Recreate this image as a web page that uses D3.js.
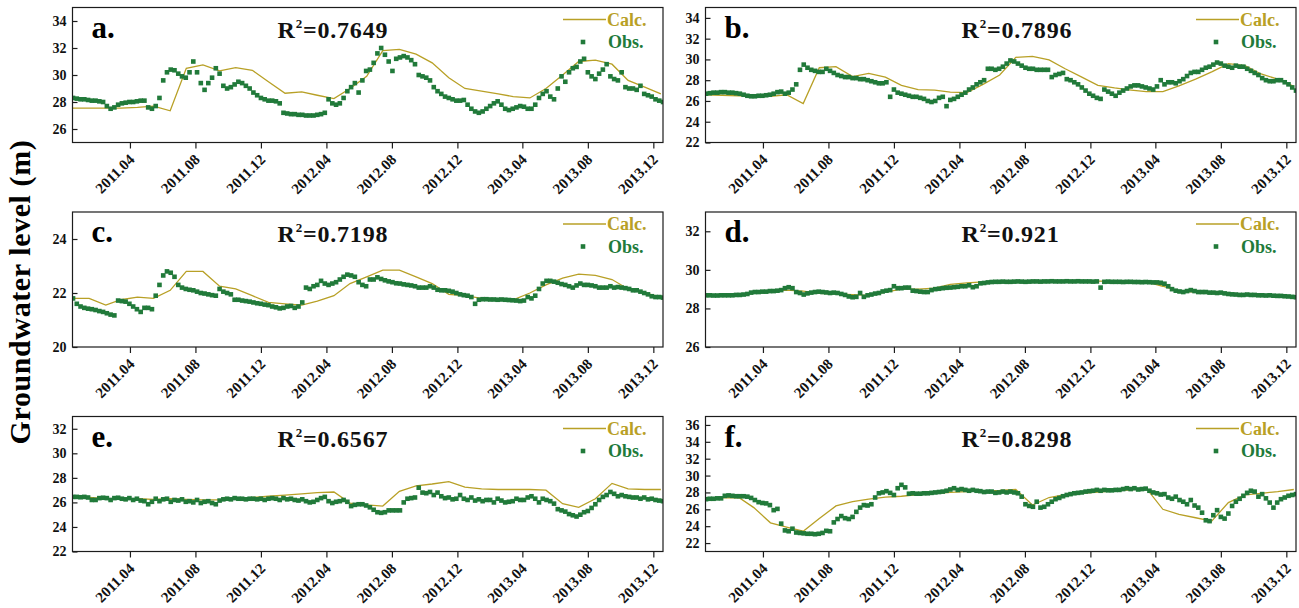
<!DOCTYPE html>
<html>
<head>
<meta charset="utf-8">
<script src="https://cdn.jsdelivr.net/npm/d3@7"></script>
<style>
  body { margin: 0; background: #fff; }
  svg text { font-family: "Liberation Serif", "Times New Roman", serif; font-weight: bold; }
</style>
</head>
<body>
<svg id="chart" width="1299" height="608"></svg>
<script>
// ---- data ---------------------------------------------------------------
const tickLabels = ["2011.04", "2011.08", "2011.12", "2012.04", "2012.08", "2012.12", "2013.04", "2013.08", "2013.12"];
const panelIds = ["a.", "b.", "c.", "d.", "e.", "f."];
const r2Values = ["0.7649", "0.7896", "0.7198", "0.921", "0.6567", "0.8298"];
const yDomains = [[25, 35], [22, 35], [20, 25], [26, 33], [22, 33], [21, 37]];
const yTickValues = [
  [26, 28, 30, 32, 34],
  [22, 24, 26, 28, 30, 32, 34],
  [20, 22, 24],
  [26, 28, 30, 32],
  [22, 24, 26, 28, 30, 32],
  [22, 24, 26, 28, 30, 32, 34, 36]
];

// observations: weekly readings starting 2010-12-16
const obsStart = [2010, 11, 16];
const obsStepDays = 7;

const obsA = [
  28.3, 28.25, 28.2, 28.2, 28.15, 28.1, 28.1, 28.05, 28.0, 27.7,
  27.5, 27.6, 27.8, 27.9, 27.95, 28.0, 28.0, 28.05, 28.1, 28.1,
  27.6, 27.5, 27.7, 28.3, 29.6, 30.2, 30.4, 30.35, 30.1, 29.9,
  29.8, 30.2, 31.0, 30.2, 29.4, 28.9, 29.4, 29.8, 30.5, 30.1,
  29.2, 29.0, 29.1, 29.3, 29.5, 29.4, 29.2, 29.0, 28.7, 28.5,
  28.3, 28.2, 28.1, 28.1, 28.05, 27.9, 27.2, 27.15, 27.1, 27.1,
  27.05, 27.05, 27.0, 27.0, 27.0, 27.05, 27.1, 27.2, 28.2, 27.9,
  27.8, 27.9, 28.3, 28.8, 29.1, 29.4, 28.7, 29.6, 30.3, 30.4,
  30.9, 31.6, 32.0, 31.5, 31.0, 30.3, 31.2, 31.3, 31.4, 31.3,
  31.1, 30.8, 30.0, 29.9, 29.8, 29.6, 29.1, 28.8, 28.6, 28.4,
  28.3, 28.2, 28.1, 28.1, 28.15, 27.8, 27.5, 27.3, 27.2, 27.3,
  27.5, 27.7, 27.9, 28.05, 27.8, 27.5, 27.4, 27.5, 27.6, 27.7,
  27.65, 27.5, 27.5, 27.8, 28.3, 28.6, 28.8, 28.4, 28.2, 29.0,
  29.9, 29.5, 30.2, 30.5, 30.6, 31.0, 31.2, 30.2, 29.9, 29.7,
  30.1, 30.4, 30.8, 29.9, 29.7, 29.6, 30.2, 29.1, 29.0, 29.0,
  28.9, 29.2, 28.6, 28.5, 28.4, 28.2, 28.1, 28.0
];
const obsB = [
  26.7, 26.75, 26.8, 26.8, 26.85, 26.85, 26.8, 26.8, 26.75, 26.7,
  26.6, 26.5, 26.45, 26.45, 26.5, 26.5, 26.55, 26.6, 26.7, 26.85,
  26.9, 26.7, 26.8, 27.1, 27.6, 29.0, 29.5, 29.2, 29.0, 28.9,
  28.8, 28.8, 29.1, 28.9, 28.7, 28.5, 28.4, 28.3, 28.3, 28.2,
  28.2, 28.1, 28.1, 28.0, 27.9, 27.8, 27.7, 27.7, 27.8, 26.4,
  27.1, 26.8, 26.7, 26.6, 26.5, 26.4, 26.4, 26.3, 26.2, 26.0,
  25.9, 26.0, 26.3, 26.4, 25.5, 26.1, 26.2, 26.4, 26.6, 26.8,
  27.1, 27.3, 27.6, 27.8, 28.0, 29.1, 29.1, 29.0, 29.1, 29.3,
  29.6, 29.9, 29.8, 29.6, 29.4, 29.2, 29.1, 29.1, 29.0, 29.0,
  29.0, 29.0, 28.3, 28.5, 28.6, 28.7, 28.1, 28.0, 27.8, 27.6,
  27.3, 27.0, 26.7, 26.5, 26.3, 26.2, 27.1, 26.9, 26.7, 26.5,
  26.8, 27.0, 27.2, 27.4, 27.5, 27.5, 27.4, 27.3, 27.2, 27.1,
  27.4, 28.0, 27.6, 27.8, 27.8, 27.7, 27.9, 28.1, 28.4, 28.7,
  28.8, 28.8, 29.0, 29.2, 29.3, 29.5, 29.7, 29.6, 29.4, 29.3,
  29.2, 29.4, 29.3, 29.3, 29.1, 28.9, 28.7, 28.5, 28.2, 28.0,
  27.9, 27.9, 28.0, 28.0, 27.8, 27.6, 27.3, 27.0
];
const obsC = [
  21.8, 21.6, 21.5, 21.45, 21.42, 21.4, 21.37, 21.33, 21.3, 21.25,
  21.2, 21.17, 21.72, 21.7, 21.68, 21.6, 21.5, 21.4, 21.3, 21.45,
  21.45, 21.4, 21.9, 22.3, 22.65, 22.8, 22.75, 22.6, 22.3, 22.2,
  22.15, 22.12, 22.1, 22.05, 22.0, 21.98, 21.95, 21.92, 21.9, 22.15,
  22.05, 22.0, 21.95, 21.75, 21.75, 21.72, 21.7, 21.68, 21.65, 21.62,
  21.6, 21.57, 21.55, 21.5, 21.47, 21.43, 21.45, 21.5, 21.52, 21.45,
  21.5, 21.65, 22.2, 22.15, 22.25, 22.3, 22.45, 22.35, 22.3, 22.35,
  22.4, 22.5, 22.6, 22.68, 22.65, 22.6, 22.4, 22.3, 22.25, 22.5,
  22.5, 22.58, 22.52, 22.47, 22.43, 22.4, 22.36, 22.35, 22.32, 22.3,
  22.28, 22.25, 22.2, 22.2, 22.2, 22.25, 22.2, 22.12, 22.1, 22.1,
  22.08, 22.05, 22.0, 21.95, 21.92, 21.9, 21.85, 21.6, 21.75, 21.77,
  21.77, 21.76, 21.76, 21.75, 21.76, 21.75, 21.74, 21.73, 21.72, 21.7,
  21.72, 21.85, 21.8, 21.9, 22.15, 22.35, 22.45, 22.45, 22.42, 22.38,
  22.33, 22.3, 22.25, 22.2, 22.28, 22.35, 22.3, 22.3, 22.28, 22.25,
  22.2, 22.2, 22.2, 22.25, 22.2, 22.22, 22.2, 22.18, 22.15, 22.1,
  22.1, 22.05, 22.0, 21.95, 21.88, 21.85, 21.85, 21.83
];
const obsD = [
  28.68, 28.68, 28.67, 28.67, 28.68, 28.68, 28.68, 28.68, 28.7, 28.7,
  28.72, 28.75, 28.82, 28.85, 28.85, 28.87, 28.87, 28.9, 28.9, 28.92,
  28.95, 29.05, 29.1, 29.05, 28.85, 28.8, 28.72, 28.78, 28.82, 28.85,
  28.87, 28.85, 28.83, 28.8, 28.82, 28.8, 28.75, 28.7, 28.62, 28.58,
  28.6, 28.8, 28.6, 28.68, 28.72, 28.77, 28.8, 28.88, 28.92, 28.95,
  29.15, 29.05, 29.05, 29.08, 29.08, 28.92, 28.9, 28.87, 28.85, 28.85,
  28.95, 29.0, 29.02, 29.05, 29.07, 29.08, 29.1, 29.12, 29.15, 29.15,
  29.2, 29.1, 29.15, 29.3, 29.32, 29.35,
  29.37, 29.38, 29.38, 29.39, 29.38, 29.38, 29.39, 29.4, 29.39, 29.38,
  29.39, 29.4, 29.4, 29.39, 29.4, 29.4, 29.41, 29.4, 29.4, 29.4,
  29.41, 29.4, 29.4, 29.41, 29.4, 29.4, 29.4, 29.39, 29.4,
  29.08,
  29.38, 29.39, 29.38, 29.38, 29.38, 29.37, 29.38, 29.38, 29.37, 29.37,
  29.36, 29.37, 29.36, 29.35,
  29.35, 29.33, 29.28, 29.15, 29.0, 28.92, 28.88, 28.85, 28.9, 28.95,
  28.9, 28.85, 28.85, 28.85, 28.82, 28.82, 28.8, 28.82, 28.78, 28.75,
  28.73, 28.72, 28.7, 28.7, 28.72, 28.7, 28.7, 28.68, 28.68, 28.67,
  28.68, 28.66, 28.65, 28.65, 28.63, 28.62, 28.6, 28.58
];
const obsE = [
  26.45, 26.45, 26.42, 26.45, 26.4, 26.2, 26.2, 26.35, 26.38, 26.35,
  26.2, 26.35, 26.38, 26.3, 26.25, 26.35, 26.2, 26.3, 26.15, 26.1,
  25.85, 26.05, 26.3, 26.1, 26.25, 26.3, 26.05, 26.2, 26.15, 26.25,
  26.05, 26.1, 26.0, 26.2, 25.95, 26.05, 26.1, 25.95, 25.85, 26.15,
  26.25, 26.3, 26.25, 26.35, 26.3, 26.3, 26.25, 26.3, 26.3, 26.25,
  26.3, 26.2, 26.3, 26.35, 26.3, 26.2, 26.35, 26.25, 26.3, 26.2,
  26.15, 26.25, 26.1, 26.0, 26.05, 26.2, 26.35, 26.45, 26.1, 25.95,
  26.05, 26.1, 26.2, 26.05, 25.7, 25.8, 25.85, 25.85, 25.75, 25.6,
  25.4, 25.2, 25.15, 25.2, 25.35, 25.35, 25.35, 25.35, 26.0, 26.3,
  26.35, 26.4, 27.2, 26.8, 26.75, 26.85, 26.6, 26.8, 26.5, 26.35,
  26.4, 26.25, 26.3, 26.6, 26.3, 26.2, 26.4, 26.15, 26.25, 26.1,
  26.2, 26.2, 26.0, 26.3, 26.15, 26.0, 26.05, 26.1, 26.3, 26.2,
  26.2, 26.4, 26.5, 26.3, 26.0, 26.3, 26.2, 26.1, 25.9, 25.45,
  25.35, 25.25, 25.05, 24.95, 24.85, 25.0, 25.2, 25.3, 25.55, 25.85,
  26.2, 26.45, 26.6, 26.85, 26.7, 26.5, 26.6, 26.5, 26.45, 26.4,
  26.4, 26.3, 26.4, 26.25, 26.3, 26.2, 26.15, 26.1
];
const obsF = [
  27.2, 27.25, 27.25, 27.3, 27.3, 27.6, 27.65, 27.6, 27.55, 27.55,
  27.55, 27.5, 27.35, 27.1, 26.85, 26.75, 26.7, 26.5, 25.9, 26.05,
  24.3, 23.5, 23.4, 23.7, 23.25, 23.2, 23.15, 23.1, 23.1, 23.05,
  23.1, 23.2, 23.45, 23.4, 24.45, 24.85, 25.2, 24.95, 24.85, 25.1,
  25.7, 26.2, 26.5, 26.45, 26.6, 27.4, 27.9, 28.0, 28.15, 27.95,
  27.7, 28.5, 28.9, 28.6, 27.85, 27.9, 27.85, 27.85, 27.9, 27.9,
  27.95, 28.0, 28.05, 28.1, 28.2, 28.35, 28.5, 28.3, 28.4, 28.3,
  28.2, 28.3, 28.2, 28.15, 28.05, 28.1, 28.1, 27.95, 28.0, 28.1,
  28.0, 28.1, 28.0, 27.9, 27.5, 26.6, 26.4, 26.3, 26.9, 26.2,
  26.3, 26.6, 26.9, 27.2, 27.35, 27.55, 27.7, 27.8, 27.9, 27.95,
  28.0, 28.1, 28.15, 28.2, 28.3, 28.2, 28.3, 28.25, 28.25, 28.3,
  28.3, 28.4, 28.5, 28.4, 28.5, 28.35, 28.4, 28.45, 28.2, 28.0,
  27.9, 27.75, 27.8, 27.4, 27.25, 27.5, 27.1, 26.9, 26.6, 27.1,
  26.45, 26.2, 25.6, 24.7, 24.6, 25.3, 25.9, 25.1, 24.9, 25.5,
  26.4, 26.9, 27.25, 27.6, 27.95, 28.2, 28.1, 27.5, 27.8, 27.3,
  26.8, 26.2, 26.8, 27.2, 27.4, 27.6, 27.7, 27.8
];

// calculated levels: one value per month (mid-month), Dec 2010 .. Dec 2013
const calcStart = [2010, 11, 15];
const calcA = [
  27.55, 27.55, 27.55, 27.55, 27.6, 27.7, 27.35,
  30.5, 30.75, 30.3, 30.55, 30.35, 29.5,
  28.65, 28.75, 28.5, 28.25, 29.0, 29.9, 31.8, 31.9, 31.55, 30.9, 29.8, 29.0,
  28.8, 28.6, 28.4, 28.3, 29.0, 30.0, 31.0, 31.1, 30.8, 29.6, 29.1, 28.6
];
const calcB = [
  26.6, 26.55, 26.5, 26.45, 26.45, 26.6, 25.75,
  29.2, 29.3, 28.35, 28.65, 28.3, 27.5,
  27.1, 27.05, 26.85, 26.8, 27.6, 28.5, 30.2, 30.3, 29.95, 29.1, 28.3, 27.5,
  27.25, 27.05, 26.9, 26.9, 27.45, 28.1, 28.8, 29.6, 29.4, 28.6, 28.1, 27.4
];
const calcC = [
  21.8, 21.8, 21.55, 21.75, 21.85, 21.8, 22.1,
  22.8, 22.8, 22.25, 22.15, 21.9, 21.65,
  21.6, 21.55, 21.7, 21.9, 22.35, 22.6, 22.85, 22.85, 22.6, 22.35, 21.95, 21.9,
  21.8, 21.75, 21.75, 22.0, 22.3, 22.55, 22.7, 22.65, 22.5, 22.15, 22.0, 21.85
];
const calcD = [
  28.7, 28.7, 28.72, 28.78, 28.88, 28.95, 28.9,
  28.78, 28.75, 28.72, 28.68, 28.85, 29.0,
  29.0, 29.05, 29.25, 29.33, 29.38, 29.42, 29.42, 29.42, 29.42, 29.42, 29.42, 29.42,
  29.4, 29.4, 29.38, 29.15, 28.9, 28.85, 28.82, 28.78, 28.75, 28.72, 28.68, 28.65
];
const calcE = [
  26.4, 26.4, 26.3, 26.3, 26.3, 26.25, 26.3,
  26.25, 26.2, 26.2, 26.3, 26.4, 26.5,
  26.6, 26.7, 26.8, 26.85, 25.95, 25.8, 25.7, 26.9, 27.35, 27.5, 27.7, 27.25,
  27.1, 27.05, 27.05, 27.05, 27.0, 25.9, 25.6, 26.3, 27.55, 27.1, 27.05, 27.05
];
const calcF = [
  27.3, 27.35, 27.4, 26.2, 24.4, 23.9, 23.4,
  24.9, 26.4, 26.9, 27.2, 27.45, 27.55,
  27.75, 27.9, 28.0, 28.1, 28.2, 28.25, 28.35, 26.5, 27.4, 27.75, 27.9, 28.05,
  28.2, 28.3, 28.5, 26.0, 25.4, 25.0, 24.6, 26.8, 27.7, 27.9, 28.1, 28.35
];

const obsSeries = [obsA, obsB, obsC, obsD, obsE, obsF];
const calcSeries = [calcA, calcB, calcC, calcD, calcE, calcF];

// ---- styling / layout ---------------------------------------------------
const calcColor = "#B8A026";
const obsColor = "#217A3A";
const frameColor = "#1c1c1c";

const W = 1299, H = 608;
const colLeft = [72.5, 705.5];
const rowTop = [7.5, 212, 416.5];
const plotW = 590.5, plotH = 135;
const r2Offset = [205, 256];
const markerSize = 4.6;

const xDomain = [new Date(2010, 11, 15), new Date(2013, 11, 19)];
const tickDates = tickLabels.map(s => {
  const [yy, mm] = s.split(".").map(Number);
  return new Date(yy, mm - 1, 1);
});
const obsDates = d3.range(obsA.length).map(i => new Date(obsStart[0], obsStart[1], obsStart[2] + i * obsStepDays));
const calcDates = d3.range(calcA.length).map(i => new Date(calcStart[0], calcStart[1] + i, calcStart[2]));

const svg = d3.select("#chart").attr("viewBox", `0 0 ${W} ${H}`);
svg.append("rect").attr("width", W).attr("height", H).attr("fill", "#fff");

const panels = panelIds.map((id, k) => ({
  id, r2: r2Values[k], obs: obsSeries[k], calc: calcSeries[k],
  yDomain: yDomains[k], yTicks: yTickValues[k], col: k % 2, row: Math.floor(k / 2)
}));

panels.forEach((p, k) => {
  const left = colLeft[p.col], top = rowTop[p.row];
  const g = svg.append("g").attr("transform", `translate(${left},${top})`);

  const x = d3.scaleTime().domain(xDomain).range([0, plotW]);
  const y = d3.scaleLinear().domain(p.yDomain).range([plotH, 0]);

  const clipId = "plot-clip-" + k;
  g.append("clipPath").attr("id", clipId)
    .append("rect").attr("width", plotW).attr("height", plotH);
  const plot = g.append("g").attr("clip-path", `url(#${clipId})`);

  // calculated series
  const line = d3.line().x(d => x(d[0])).y(d => y(d[1]));
  plot.append("path")
    .datum(calcDates.map((d, i) => [d, p.calc[i]]))
    .attr("d", line)
    .attr("fill", "none")
    .attr("stroke", calcColor)
    .attr("stroke-width", 1.3);

  // observed series
  plot.selectAll("rect.obs")
    .data(p.obs)
    .join("rect")
    .attr("class", "obs")
    .attr("x", (d, i) => x(obsDates[i]) - markerSize / 2)
    .attr("y", d => y(d) - markerSize / 2)
    .attr("width", markerSize)
    .attr("height", markerSize)
    .attr("fill", obsColor);

  // frame
  g.append("rect")
    .attr("width", plotW).attr("height", plotH)
    .attr("fill", "none").attr("stroke", frameColor).attr("stroke-width", 1.2);

  // x axis
  const gx = g.append("g")
    .attr("transform", `translate(0,${plotH})`)
    .call(d3.axisBottom(x).tickValues(tickDates).tickFormat((d, i) => tickLabels[i]).tickSize(6));
  gx.select(".domain").remove();
  gx.attr("font-family", null).attr("font-size", null);
  gx.selectAll(".tick line").attr("stroke", frameColor).attr("stroke-width", 1.2);
  gx.selectAll(".tick text")
    .attr("x", 0).attr("y", 0).attr("dy", 0)
    .attr("transform", "translate(5,18) rotate(-45)")
    .attr("text-anchor", "end")
    .attr("fill", "#111")
    .style("font-size", "15px");

  // y axis
  const gy = g.append("g")
    .call(d3.axisLeft(y).tickValues(p.yTicks).tickFormat(d3.format("d")).tickSize(-5).tickPadding(6));
  gy.select(".domain").remove();
  gy.attr("font-family", null).attr("font-size", null);
  gy.selectAll(".tick line").attr("stroke", frameColor).attr("stroke-width", 1.2);
  gy.selectAll(".tick text").attr("fill", "#111").style("font-size", "14px");

  // panel letter
  g.append("text")
    .attr("x", 19).attr("y", 30)
    .attr("fill", "#000")
    .style("font-size", "31px")
    .text(p.id);

  // R² annotation
  const r2 = g.append("text")
    .attr("x", r2Offset[p.col]).attr("y", 30)
    .attr("fill", "#111")
    .style("font-size", "24px")
    .style("letter-spacing", "0.8px");
  r2.append("tspan").text("R");
  r2.append("tspan").attr("dy", -10).style("font-size", "13px").text("2");
  r2.append("tspan").attr("dy", 10).text("=" + p.r2);

  // legend
  const lg = g.append("g").attr("transform", `translate(${plotW},0)`);
  lg.append("line")
    .attr("x1", -100).attr("x2", -57).attr("y1", 12).attr("y2", 12)
    .attr("stroke", calcColor).attr("stroke-width", 1.6);
  lg.append("text")
    .attr("x", -56).attr("y", 18)
    .attr("fill", calcColor).style("font-size", "18px")
    .text("Calc.");
  lg.append("rect")
    .attr("x", -80 - markerSize / 2).attr("y", 34.5 - markerSize / 2)
    .attr("width", markerSize).attr("height", markerSize)
    .attr("fill", obsColor);
  lg.append("text")
    .attr("x", -55).attr("y", 40.5)
    .attr("fill", obsColor).style("font-size", "18px")
    .text("Obs.");
});

// shared y-axis title
svg.append("text")
  .attr("transform", "translate(30,292) rotate(-90)")
  .attr("text-anchor", "middle")
  .attr("fill", "#000")
  .style("font-size", "30px")
  .style("letter-spacing", "0.6px")
  .text("Groundwater level (m)");
</script>
</body>
</html>
